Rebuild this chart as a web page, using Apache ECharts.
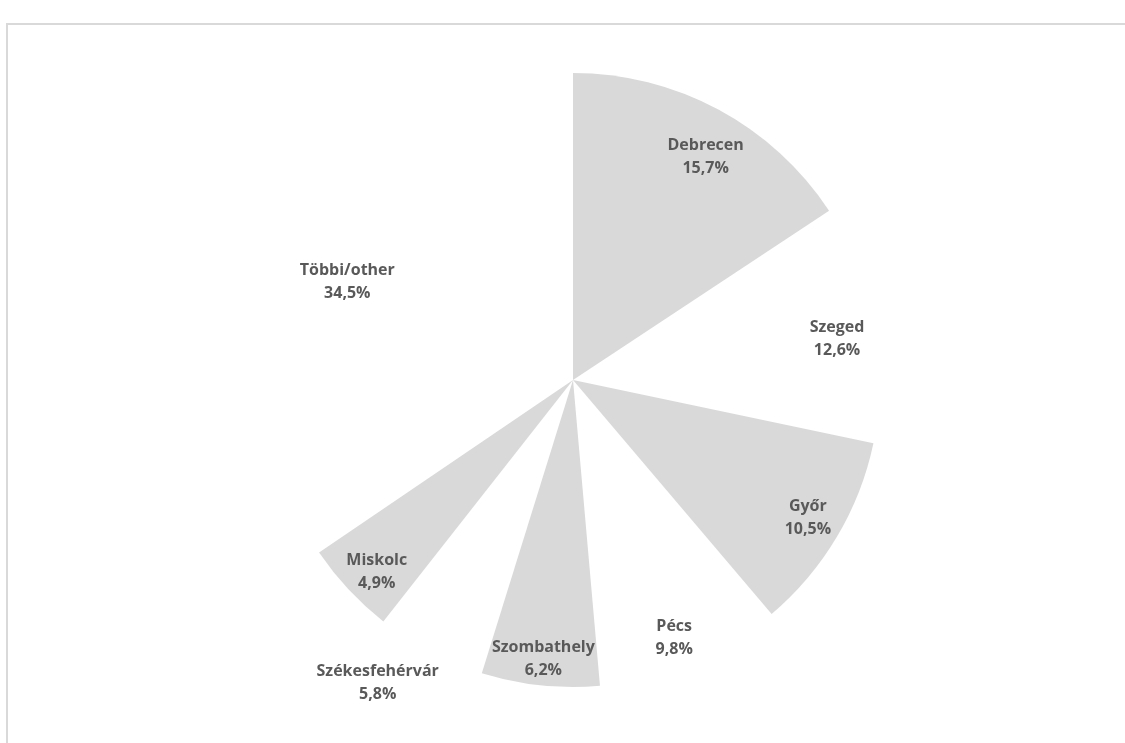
<!DOCTYPE html>
<html>
<head>
<meta charset="utf-8">
<style>html,body{margin:0;padding:0;background:#fff;}#chart{width:1125px;height:743px;}</style>
<script src="https://cdn.jsdelivr.net/npm/echarts@6/dist/echarts.min.js"></script>
</head>
<body>
<div id="chart"></div>
<script>
const categories = ['Debrecen', 'Szeged', 'Győr', 'Pécs', 'Szombathely', 'Székesfehérvár', 'Miskolc', 'Többi/other'];
const shares = [15.7, 12.6, 10.5, 9.8, 6.2, 5.8, 4.9, 34.5];
const filled = [true, false, true, false, true, false, true, false];

// label nudges (pixels) relative to the ring-midpoint label position
const labelNudge = [[1, 22], [-9, 11], [-4, -4], [-6, 1], [0, 3], [-66, 57], [7, 2], [20, 32]];

const chart = echarts.init(document.getElementById('chart'));
const fmt = v => v.toFixed(1).replace('.', ',') + '%';

const sliceData = categories.map((name, i) => ({
  name: name,
  value: shares[i],
  itemStyle: { color: filled[i] ? '#d9d9d9' : 'rgba(255,255,255,0)' }
}));
const labelData = categories.map((name, i) => ({ name: name, value: shares[i] }));

chart.setOption({
  animation: false,
  backgroundColor: '#ffffff',
  graphic: [{
    type: 'rect',
    shape: { x: 7, y: 24, width: 1200, height: 800 },
    style: { fill: 'none', stroke: '#d9d9d9', lineWidth: 2 },
    silent: true
  }],
  series: [
    {
      type: 'pie',
      center: [573, 380],
      radius: [0, 307],
      startAngle: 90,
      clockwise: true,
      silent: true,
      label: { show: false },
      labelLine: { show: false },
      itemStyle: { borderWidth: 0 },
      data: sliceData
    },
    {
      type: 'pie',
      center: [573, 380],
      radius: [240, 310],
      startAngle: 90,
      clockwise: true,
      silent: true,
      itemStyle: { color: 'rgba(0,0,0,0)', borderWidth: 0 },
      label: {
        show: true,
        position: 'inside',
        formatter: p => p.name + '\n' + fmt(p.value),
        fontFamily: 'Open Sans',
        fontWeight: 'bold',
        fontSize: 16,
        lineHeight: 23,
        color: '#595959',
        align: 'center'
      },
      labelLine: { show: false },
      labelLayout: p => ({ dx: labelNudge[p.dataIndex][0], dy: labelNudge[p.dataIndex][1] }),
      data: labelData
    }
  ]
});
</script>
</body>
</html>
